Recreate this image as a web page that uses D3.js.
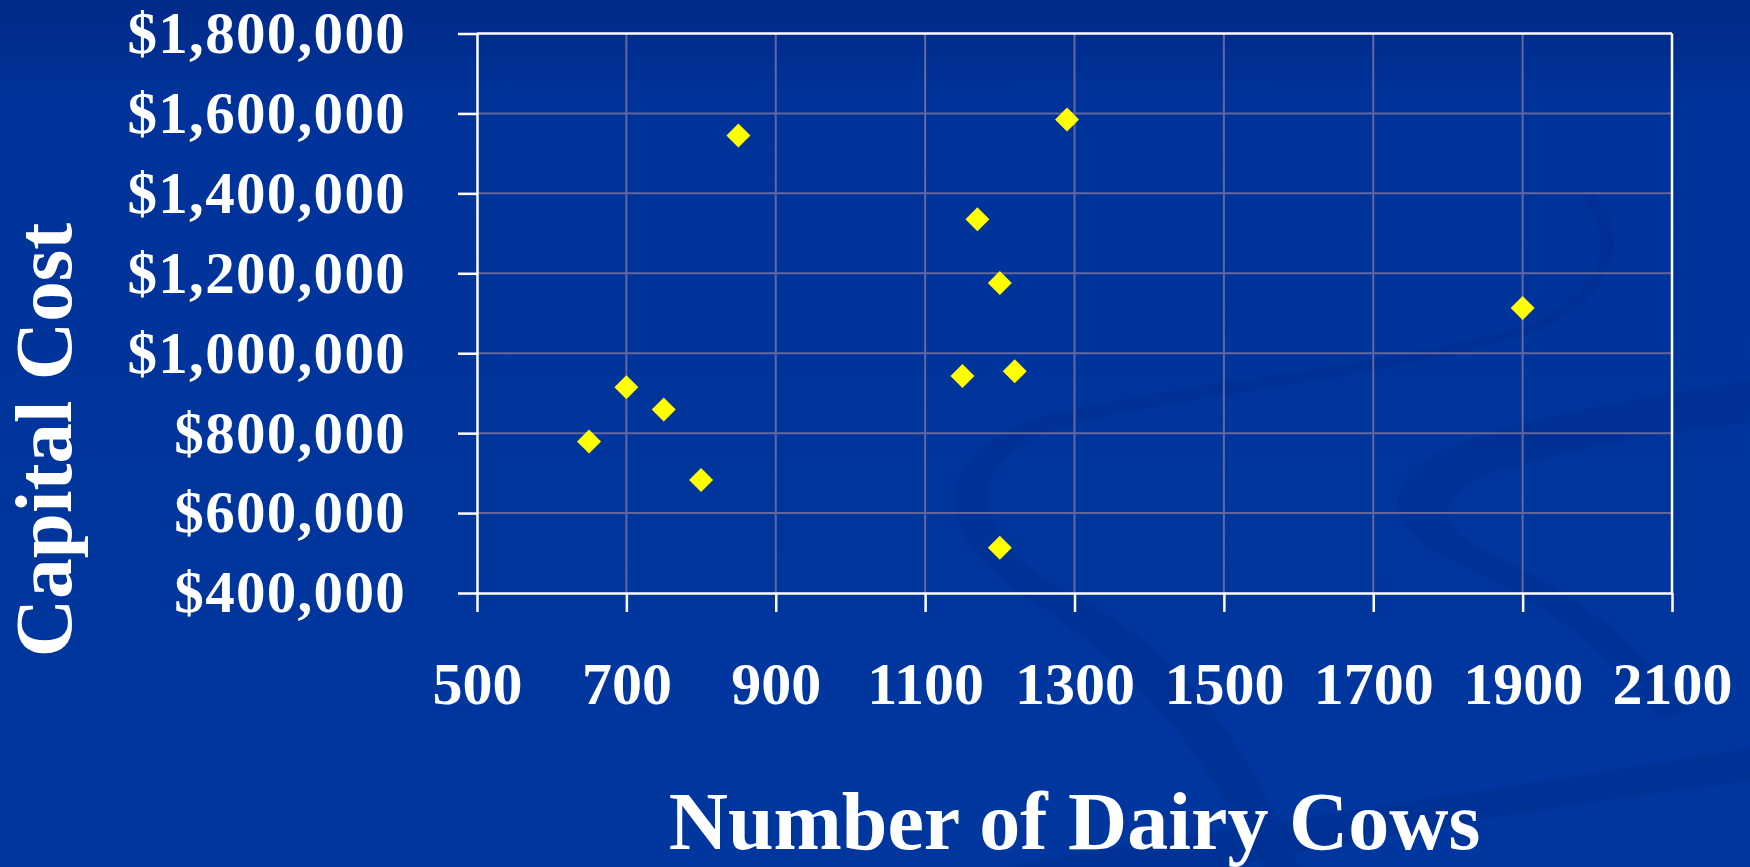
<!DOCTYPE html>
<html>
<head>
<meta charset="utf-8">
<script src="https://cdn.jsdelivr.net/npm/d3@7"></script>
<style>
  html, body { margin: 0; padding: 0; background: #00349a; overflow: hidden; }
</style>
</head>
<body>
<div id="chart"></div>
<script>
// Capital cost vs herd size scatter (slide style, blue background)
const cows  = [650, 700, 750, 800, 850, 1150, 1170, 1200, 1200, 1220, 1290, 1900];
const costs = [779000, 915000, 859000, 683000, 1545000, 943000, 1335000, 1176000, 513000, 955000, 1585000, 1113000];
const xTicks = [500, 700, 900, 1100, 1300, 1500, 1700, 1900, 2100];
const yTicks = [400000, 600000, 800000, 1000000, 1200000, 1400000, 1600000, 1800000];
const xTitle = 'Number of Dairy Cows';
const yTitle = 'Capital Cost';

const width = 1750, height = 867;
const plot = { left: 477, right: 1672, top: 33.5, bottom: 593 };
const serif = '"Liberation Serif", "Times New Roman", serif';

const svg = d3.select('#chart').append('svg')
    .attr('width', width)
    .attr('height', height);

// background
const defs = svg.append('defs');
const grad = defs.append('linearGradient')
    .attr('id', 'bg').attr('x1', 0).attr('y1', 0).attr('x2', 0).attr('y2', 1);
grad.append('stop').attr('offset', '0%').attr('stop-color', '#002a87');
grad.append('stop').attr('offset', '12%').attr('stop-color', '#00339a');
grad.append('stop').attr('offset', '100%').attr('stop-color', '#00379e');
svg.append('rect').attr('width', width).attr('height', height).attr('fill', 'url(#bg)');

// faint swirls of the slide template
const swirls = svg.append('g').attr('fill', '#002a86').attr('opacity', 0.35);
swirls.append('path').attr('d',
    'M1592,192 C1630,232 1622,292 1540,330 C1400,378 1160,398 1060,428 ' +
    'C950,462 975,548 1075,596 C1160,640 1240,720 1300,867 L1262,867 ' +
    'C1200,740 1120,660 1040,606 C930,540 925,462 1030,420 ' +
    'C1150,385 1400,366 1530,324 C1605,290 1612,240 1584,198 Z');
swirls.append('path').attr('d',
    'M1750,380 C1640,398 1520,416 1440,452 C1380,480 1385,530 1450,560 ' +
    'C1540,600 1610,650 1660,720 L1690,710 C1640,640 1560,585 1480,548 ' +
    'C1430,524 1440,488 1500,470 C1580,446 1680,430 1750,422 Z');
swirls.append('path').attr('d',
    'M1750,748 C1500,790 1200,830 1005,867 L1228,867 C1400,830 1600,800 1750,781 Z');

const x = d3.scaleLinear().domain([500, 2100]).range([plot.left, plot.right]);
const y = d3.scaleLinear().domain([400000, 1800000]).range([plot.bottom, plot.top]);

// gridlines
const grid = svg.append('g').attr('stroke', '#6466a0').attr('stroke-width', 2);
grid.selectAll('.gx').data(xTicks.slice(1, -1)).enter().append('line')
    .attr('x1', d => x(d)).attr('x2', d => x(d))
    .attr('y1', plot.top).attr('y2', plot.bottom);
grid.selectAll('.gy').data(yTicks.slice(1, -1)).enter().append('line')
    .attr('x1', plot.left).attr('x2', plot.right)
    .attr('y1', d => y(d)).attr('y2', d => y(d));

// frame (top + right)
svg.append('line').attr('x1', plot.left).attr('x2', plot.right)
    .attr('y1', plot.top).attr('y2', plot.top)
    .attr('stroke', '#fff').attr('stroke-width', 2.5);
svg.append('line').attr('x1', plot.right).attr('x2', plot.right)
    .attr('y1', plot.top).attr('y2', plot.bottom)
    .attr('stroke', '#fff').attr('stroke-width', 2.5);

// axes
const yAxis = svg.append('g')
    .attr('transform', `translate(${plot.left},0)`)
    .call(d3.axisLeft(y).tickValues(yTicks).tickSize(19).tickPadding(52)
        .tickFormat(d3.format('$,')).tickSizeOuter(0));
const xAxis = svg.append('g')
    .attr('transform', `translate(0,${plot.bottom})`)
    .call(d3.axisBottom(x).tickValues(xTicks).tickSize(19).tickPadding(49)
        .tickFormat(d3.format('d')).tickSizeOuter(0));

[yAxis, xAxis].forEach(g => {
    g.select('.domain').attr('stroke', '#fff').attr('stroke-width', 2.5);
    g.selectAll('.tick line').attr('stroke', '#fff').attr('stroke-width', 2.5);
    g.selectAll('.tick text')
        .attr('fill', '#fff')
        .attr('font-family', serif)
        .attr('font-weight', 'bold');
});
yAxis.selectAll('.tick text').attr('font-size', 59).attr('letter-spacing', 1.3);
xAxis.selectAll('.tick text').attr('font-size', 60);

// points
svg.append('g').selectAll('path')
    .data(cows.map((c, i) => ({ c, v: costs[i] })))
    .enter().append('path')
    .attr('d', 'M0,-12L12,0L0,12L-12,0Z')
    .attr('transform', d => `translate(${x(d.c)},${y(d.v)})`)
    .attr('fill', '#ffff00');

// titles
svg.append('text')
    .attr('transform', 'translate(71,440) rotate(-90)')
    .attr('text-anchor', 'middle')
    .attr('fill', '#fff')
    .attr('font-family', serif)
    .attr('font-weight', 'bold')
    .attr('font-size', 81)
    .text(yTitle);

svg.append('text')
    .attr('x', (plot.left + plot.right) / 2)
    .attr('y', 849)
    .attr('text-anchor', 'middle')
    .attr('fill', '#fff')
    .attr('font-family', serif)
    .attr('font-weight', 'bold')
    .attr('font-size', 82)
    .text(xTitle);
</script>
</body>
</html>
